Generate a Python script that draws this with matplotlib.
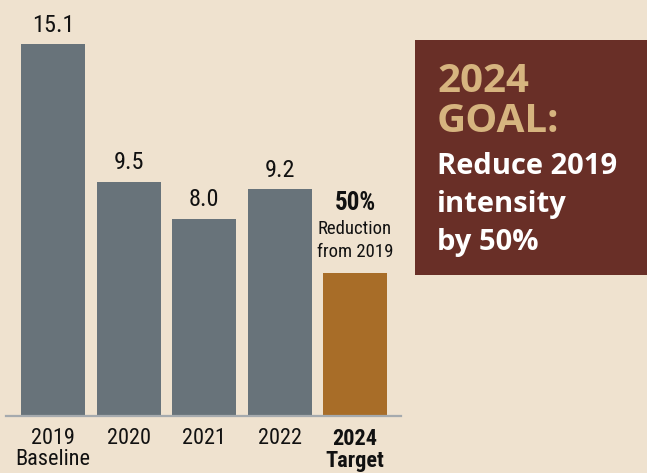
import matplotlib
matplotlib.use("Agg")
import matplotlib.pyplot as plt
from matplotlib import font_manager
from matplotlib.patches import Rectangle

# Data
categories = ["2019\nBaseline", "2020", "2021", "2022", "2024\nTarget"]
values = [15.1, 9.5, 8.0, 9.2, 5.8]
value_labels = ["15.1", "9.5", "8.0", "9.2", None]
target_note_head = "50%"
target_note_body = "Reduction\nfrom 2019"
goal_title = "2024\nGOAL:"
goal_text = "Reduce 2019\nintensity\nby 50%"

# Style
BG = "#EFE2CF"
GRAY = "#68737A"
ORANGE = "#A86D28"
BOX = "#692F27"
TAN = "#D6B47F"
AXIS = "#A5AAAE"
INK = "#111111"

installed = {f.name for f in font_manager.fontManager.ttflist}
narrow_choices = ["Liberation Sans Narrow", "Roboto Condensed",
                  "Open Sans Condensed", "DejaVu Sans"]
narrow_name = next(n for n in narrow_choices if n in installed or n == "DejaVu Sans")
NARROW = [narrow_name, "DejaVu Sans"]
NARROW_STRETCH = "condensed"
HEAVY = ["Open Sans", "DejaVu Sans"]

W, H = 647, 473
fig = plt.figure(figsize=(W / 100, H / 100), dpi=100, facecolor=BG)

# axes placed in pixel terms: left 6, right 401, baseline at 416 from top
left_px, right_px, base_px = 6, 401, 416
ax = fig.add_axes([left_px / W, (H - base_px) / H,
                   (right_px - left_px) / W, base_px / H])
ax.set_facecolor(BG)

step_px = 75.5
bar_w = 64 / step_px
first_center = (53 - left_px) / step_px
ax.set_xlim(-first_center, -first_center + (right_px - left_px) / step_px)
px_per_unit = (base_px - 44) / values[0]
ax.set_ylim(0, base_px / px_per_unit)

x = list(range(len(values)))
colors = [GRAY] * (len(values) - 1) + [ORANGE]
ax.bar(x, values, width=bar_w, color=colors, zorder=2)


def narrow_text(**kw):
    return dict(family=NARROW, fontstretch=NARROW_STRETCH, color=INK, **kw)


for xi, v, lab in zip(x, values, value_labels):
    if lab:
        ax.annotate(lab, (xi, v), xytext=(0, 9), textcoords="offset points",
                    ha="center", va="baseline", **narrow_text(fontsize=17.5))

# note over the target bar
tx, tv = x[-1], values[-1]
ax.annotate(target_note_body, (tx, tv), xytext=(0, 11.5),
            textcoords="offset points", ha="center", va="baseline",
            linespacing=1.35, **narrow_text(fontsize=13.5))
ax.annotate(target_note_head, (tx, tv), xytext=(0, 45.5),
            textcoords="offset points", ha="center", va="baseline",
            **narrow_text(fontsize=18, fontweight="bold"))

for s in ["top", "right", "left"]:
    ax.spines[s].set_visible(False)
ax.spines["bottom"].set_color(AXIS)
ax.spines["bottom"].set_linewidth(1.6)
ax.set_yticks([])
ax.set_xticks(x, categories)
ax.tick_params(axis="x", length=0, pad=8.5)
for i, t in enumerate(ax.get_xticklabels()):
    t.set_family(NARROW)
    t.set_fontstretch(NARROW_STRETCH)
    t.set_fontsize(16)
    t.set_linespacing(1.0)
    t.set_color(INK)
    if i == len(categories) - 1:
        t.set_fontweight("bold")

# goal panel on the right
bx0, by0, bx1, by1 = 415, 40, W, 275
fig.patches.append(Rectangle((bx0 / W, 1 - by1 / H), (bx1 - bx0) / W,
                             (by1 - by0) / H, transform=fig.transFigure,
                             facecolor=BOX, edgecolor="none", zorder=0))
fig.text(437 / W, 1 - 132 / H, goal_title, ha="left", va="baseline",
         fontsize=29, fontweight="bold", family=HEAVY, color=TAN,
         linespacing=1.03)
fig.text(437 / W, 1 - 250 / H, goal_text, ha="left", va="baseline",
         fontsize=21, fontweight="bold", family=HEAVY, color="white",
         linespacing=1.42)

fig.savefig("out.png", dpi=100, facecolor=BG)
